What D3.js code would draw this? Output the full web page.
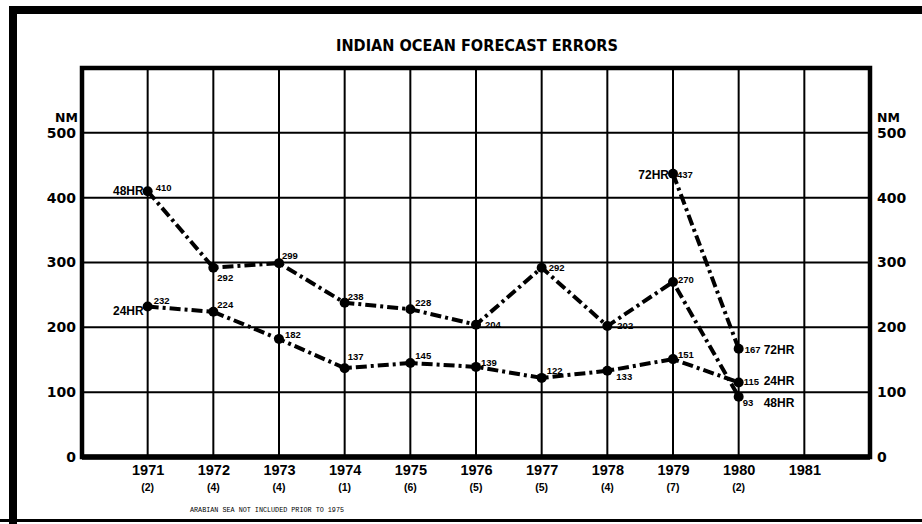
<!DOCTYPE html>
<html>
<head>
<meta charset="utf-8">
<script src="https://cdn.jsdelivr.net/npm/d3@7"></script>
<style>
  html, body { margin: 0; padding: 0; background: #fff; }
  svg { display: block; }
</style>
</head>
<body>
<svg id="chart" width="922" height="524"></svg>
<script>
// Forecast years and number of storms per year
const years = [1971, 1972, 1973, 1974, 1975, 1976, 1977, 1978, 1979, 1980];
const stormCounts = ["(2)", "(4)", "(4)", "(1)", "(6)", "(5)", "(5)", "(4)", "(7)", "(2)"];
const gridYears = [1971, 1972, 1973, 1974, 1975, 1976, 1977, 1978, 1979, 1980, 1981];

// Mean forecast errors (nautical miles)
const err24 = [232, 224, 182, 137, 145, 139, 122, 133, 151, 115];
const err48 = [410, 292, 299, 238, 228, 204, 292, 202, 270, 93];
const years72 = [1979, 1980];
const err72 = [437, 167];

const yTicks = [0, 100, 200, 300, 400, 500];

const svg = d3.select("#chart");

const x = d3.scaleLinear().domain([1970, 1982]).range([82, 870]);
const y = d3.scaleLinear().domain([0, 600]).range([457, 68]);

// outer page border
svg.append("path")
  .attr("d", "M13,524 L13,10 L922,10")
  .attr("fill", "none").attr("stroke", "#000").attr("stroke-width", 8);
svg.append("line")
  .attr("x1", 0).attr("x2", 922).attr("y1", 520.5).attr("y2", 520.5)
  .attr("stroke", "#000").attr("stroke-width", 3);

// title
svg.append("text")
  .attr("x", 477).attr("y", 51)
  .attr("text-anchor", "middle")
  .attr("font-family", "DejaVu Sans, sans-serif")
  .attr("font-weight", "bold").attr("font-size", 15)
  .attr("textLength", 282).attr("lengthAdjust", "spacingAndGlyphs")
  .text("INDIAN  OCEAN  FORECAST  ERRORS");

// grid
const grid = svg.append("g").attr("stroke", "#000").attr("stroke-width", 2);
grid.selectAll("line.h").data(yTicks.filter(d => d > 0)).join("line")
  .attr("class", "h")
  .attr("x1", x(1970)).attr("x2", x(1982))
  .attr("y1", d => y(d)).attr("y2", d => y(d));
grid.selectAll("line.v").data(gridYears).join("line")
  .attr("class", "v")
  .attr("x1", d => x(d)).attr("x2", d => x(d))
  .attr("y1", y(0)).attr("y2", y(600));

// frame
svg.append("rect")
  .attr("x", x(1970)).attr("y", y(600))
  .attr("width", x(1982) - x(1970)).attr("height", y(0) - y(600))
  .attr("fill", "none").attr("stroke", "#000").attr("stroke-width", 4.5);
svg.append("line")
  .attr("x1", x(1970)).attr("x2", x(1982)).attr("y1", y(0)).attr("y2", y(0))
  .attr("stroke", "#000").attr("stroke-width", 5.5);

// y axes, both sides
const axisFont = "DejaVu Sans, sans-serif";
const leftAxis = d3.axisLeft(y).tickValues(yTicks).tickSize(0).tickPadding(6);
const rightAxis = d3.axisRight(y).tickValues(yTicks).tickSize(0).tickPadding(7);
[[leftAxis, x(1970)], [rightAxis, x(1982)]].forEach(([ax, px]) => {
  const g = svg.append("g").attr("transform", `translate(${px},0)`).call(ax);
  g.select(".domain").remove();
  g.selectAll("text")
    .attr("font-family", axisFont).attr("font-weight", "bold")
    .attr("font-size", 14).attr("fill", "#000");
});
svg.append("text").attr("x", 78).attr("y", y(500) - 11)
  .attr("text-anchor", "end")
  .attr("font-family", axisFont).attr("font-weight", "bold").attr("font-size", 12.5)
  .text("NM");
svg.append("text").attr("x", 877).attr("y", y(500) - 11)
  .attr("font-family", axisFont).attr("font-weight", "bold").attr("font-size", 12.5)
  .text("NM");

// x axis: years and storm counts
const xAxis = d3.axisBottom(x).tickValues(gridYears).tickSize(0).tickPadding(8)
  .tickFormat(d3.format("d"));
const gx = svg.append("g").attr("transform", `translate(0,${y(0)})`).call(xAxis);
gx.select(".domain").remove();
gx.selectAll("text")
  .attr("font-family", "Liberation Sans, Arial, sans-serif")
  .attr("font-weight", "bold").attr("font-size", 14.5).attr("fill", "#000");

svg.append("g").selectAll("text").data(years).join("text")
  .attr("x", d => x(d)).attr("y", 490.5)
  .attr("text-anchor", "middle")
  .attr("font-family", "Liberation Sans, Arial, sans-serif")
  .attr("font-weight", "bold").attr("font-size", 10.5)
  .text((d, i) => stormCounts[i]);

// footnote
svg.append("text")
  .attr("x", 190).attr("y", 512)
  .attr("font-family", "Liberation Mono, monospace")
  .attr("font-size", 8)
  .attr("textLength", 154).attr("lengthAdjust", "spacingAndGlyphs")
  .text("ARABIAN SEA NOT INCLUDED PRIOR TO 1975");

// series
const series = [
  { name: "24HR", years: years, values: err24 },
  { name: "48HR", years: years, values: err48 },
  { name: "72HR", years: years72, values: err72 }
];

// value label offsets (dx, baseline dy) per series and year
const labelOffset = {
  "24HR": { 1971: [6, -3], 1972: [4, -4], 1973: [6, -1], 1974: [3, -8], 1975: [5, -4],
            1976: [5, -1], 1977: [5, -4], 1978: [9, 9], 1979: [5, -1], 1980: [5, 3] },
  "48HR": { 1971: [8, 0], 1972: [4, 13], 1973: [3, -4], 1974: [3, -3], 1975: [5, -3],
            1976: [9, 3], 1977: [7, 3], 1978: [10, 3], 1979: [5, 1], 1980: [4, 9] },
  "72HR": { 1979: [4, 4], 1980: [6, 4] }
};

const line = d3.line().x(d => x(d[0])).y(d => y(d[1]));

series.forEach(s => {
  const pts = s.years.map((yr, i) => [yr, s.values[i]]);
  svg.append("path")
    .datum(pts)
    .attr("d", line)
    .attr("fill", "none").attr("stroke", "#000")
    .attr("stroke-width", 4)
    .attr("stroke-dasharray", "11,4,3,4");
  svg.append("g").selectAll("circle").data(pts).join("circle")
    .attr("cx", d => x(d[0])).attr("cy", d => y(d[1])).attr("r", 5)
    .attr("fill", "#000");
  svg.append("g").selectAll("text").data(pts).join("text")
    .attr("x", d => x(d[0]) + labelOffset[s.name][d[0]][0])
    .attr("y", d => y(d[1]) + labelOffset[s.name][d[0]][1])
    .attr("font-family", "Liberation Sans, Arial, sans-serif")
    .attr("font-weight", "bold").attr("font-size", 9.5)
    .text(d => d[1]);
});

// series names at the start and end of each line
const nameFont = { family: "Liberation Sans, Arial, sans-serif", size: 12 };
const startNames = [
  { name: "48HR", year: 1971, value: err48[0], dy: 4 },
  { name: "24HR", year: 1971, value: err24[0], dy: 8 },
  { name: "72HR", year: 1979, value: err72[0], dy: 5 }
];
svg.append("g").selectAll("text").data(startNames).join("text")
  .attr("x", d => x(d.year) - 4).attr("y", d => y(d.value) + d.dy)
  .attr("text-anchor", "end")
  .attr("font-family", nameFont.family).attr("font-weight", "bold")
  .attr("font-size", nameFont.size)
  .text(d => d.name);

const endNames = [
  { name: "72HR", value: err72[1], dy: 5 },
  { name: "24HR", value: err24[9], dy: 3 },
  { name: "48HR", value: err48[9], dy: 10 }
];
svg.append("g").selectAll("text").data(endNames).join("text")
  .attr("x", x(1980) + 25).attr("y", d => y(d.value) + d.dy)
  .attr("font-family", nameFont.family).attr("font-weight", "bold")
  .attr("font-size", nameFont.size)
  .text(d => d.name);
</script>
</body>
</html>
